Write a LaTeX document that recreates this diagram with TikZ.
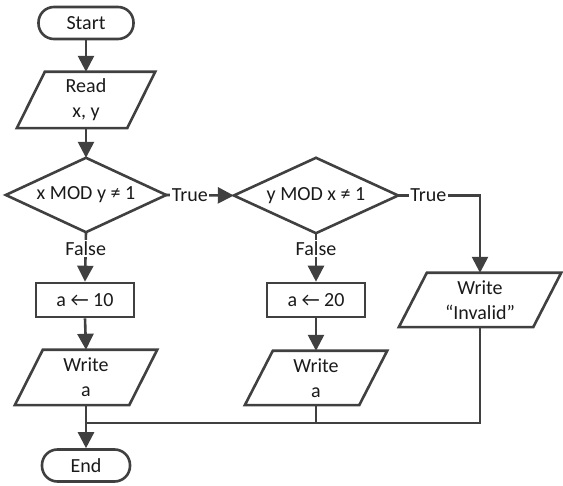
\documentclass[tikz,border=0pt]{standalone}
\usepackage{fontspec}
\setmainfont{Carlito}
\usetikzlibrary{arrows.meta}
\definecolor{lc}{HTML}{404040}
\definecolor{tc}{HTML}{1A1A1A}
\tikzset{
  every node/.style={font=\fontsize{20}{25}\selectfont, text=tc, align=center},
  conn/.style={draw=lc, line width=2.6pt},
  arr/.style={conn, -{Triangle[width=16pt,length=16pt]}},
  term/.style={draw=lc, line width=2.6pt, rectangle, rounded corners=15.5pt, minimum height=32pt, inner sep=0pt},
  proc/.style={draw=lc, line width=2.6pt, rectangle, minimum width=98pt, minimum height=34pt, inner sep=0pt},
  box/.style={rectangle, inner sep=0pt},
  lab/.style={fill=white, inner sep=1.5pt}
}
\newcommand{\paragram}[1]{%
  \draw[lc, line width=2.6pt, line join=miter]
    ([xshift=14pt]#1.north west) -- ([xshift=14pt]#1.north east)
    -- ([xshift=-14pt]#1.south east) -- ([xshift=-14pt]#1.south west) -- cycle;}
\newcommand{\diam}[1]{%
  \draw[lc, line width=2.6pt, line join=miter]
    (#1.north) -- (#1.east) -- (#1.south) -- (#1.west) -- cycle;}
\begin{document}
\begin{tikzpicture}[x=1pt, y=-1pt]
\useasboundingbox (0,0) rectangle (563,486);
% nodes
\node[term, minimum width=95pt] (start) at (86,23) {Start};
\node[box, minimum width=110pt, minimum height=56pt] (read) at (86,100) {Read\\x, y};
\node[box, minimum width=160pt, minimum height=74pt] (d1) at (86,195) {x MOD y ≠ 1};
\node[box, minimum width=164pt, minimum height=75pt] (d2) at (316,195.5) {y MOD x ≠ 1};
\node[proc] (b1) at (85,300) {a ← 10};
\node[proc] (b2) at (316,300) {a ← 20};
\node[box, minimum width=114pt, minimum height=55pt] (w1) at (86,377.5) {Write\\a};
\node[box, minimum width=114pt, minimum height=54pt] (w2) at (316,378) {Write\\a};
\node[box, minimum width=134pt, minimum height=54pt] (inv) at (480,300) {Write\\“Invalid”};
\node[term, minimum width=88pt] (end) at (86,465.5) {End};
\coordinate (j) at (86,423);
% shapes
\paragram{read}
\paragram{w1}
\paragram{w2}
\paragram{inv}
\diam{d1}
\diam{d2}
% connectors
\draw[arr] (start.south) -- (read.north);
\draw[arr] (read.south) -- (d1.north);
\draw[arr] (d1.east) -- node[lab, pos=0.35] {True} (d2.west);
\draw[arr] (d2.east) -| node[lab, pos=0.185] {True} (inv.north);
\draw[arr] (d1.south) -- node[lab, pos=0.33] {False} (b1.north);
\draw[arr] (d2.south) -- node[lab, pos=0.31] {False} (b2.north);
\draw[arr] (b1.south) -- (w1.north);
\draw[arr] (b2.south) -- (w2.north);
\draw[arr] (w1.south) -- (end.north);
\draw[conn] (inv.south) |- (j);
\draw[conn] (w2.south) -- (w2.south |- j);
\end{tikzpicture}
\end{document}
